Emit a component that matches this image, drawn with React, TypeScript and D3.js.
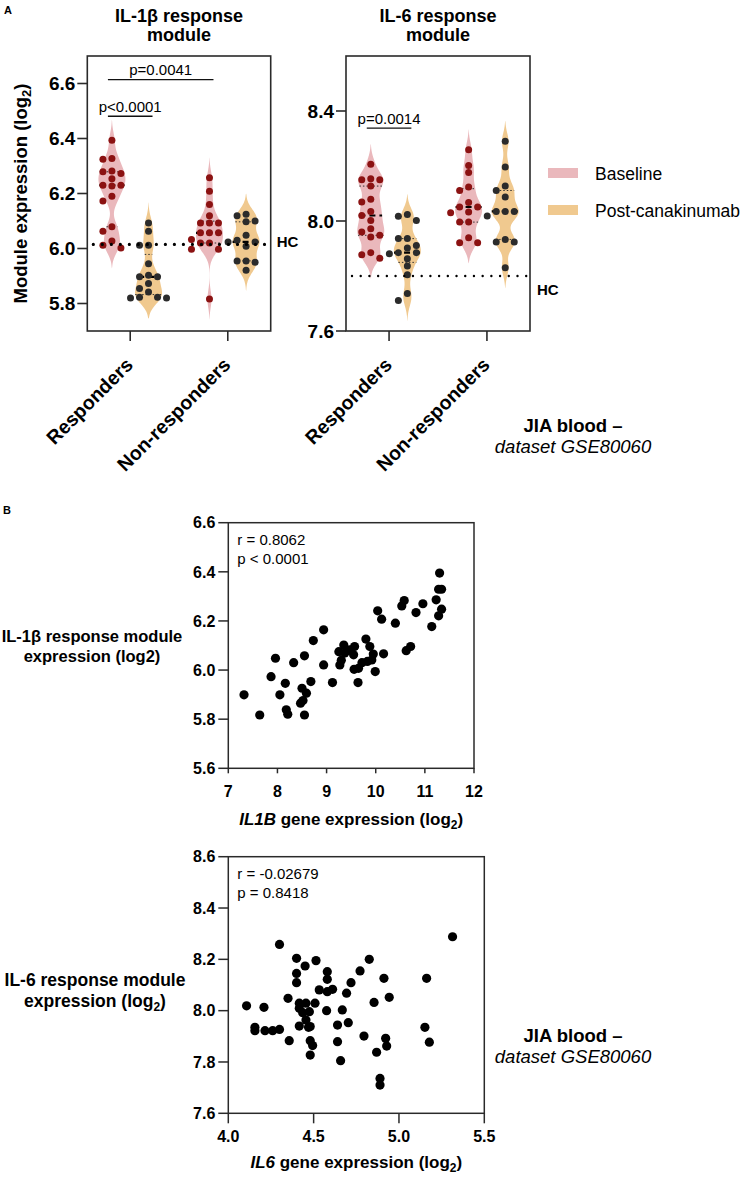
import React from 'react';
import * as d3 from 'd3';

const FONT = "'Liberation Sans', Arial, Helvetica, sans-serif";

// ---------- Panel A data ----------
const groups = ['Responders', 'Non-responders'];
const conditions = ['Baseline', 'Post-canakinumab'];

const il1bRespBaseline = [6.394, 6.327, 6.325, 6.279, 6.282, 6.273, 6.254, 6.230, 6.230, 6.227, 6.190, 6.173, 6.079, 6.063, 6.027, 6.012, 6.002];
const il1bRespPost = [6.093, 6.063, 6.012, 6.012, 5.945, 5.897, 5.897, 5.903, 5.873, 5.855, 5.842, 5.820, 5.820, 5.823, 5.823];
const il1bNonBaseline = [6.257, 6.208, 6.160, 6.119, 6.093, 6.093, 6.093, 6.057, 6.057, 6.057, 6.033, 6.020, 6.020, 5.997, 5.997, 5.816];
const il1bNonPost = [6.125, 6.119, 6.097, 6.100, 6.048, 6.030, 6.024, 6.024, 6.008, 5.955, 5.955, 5.950, 5.921];

const il6RespBaseline = [8.206, 8.150, 8.154, 8.150, 8.127, 8.079, 8.069, 8.035, 8.020, 8.002, 7.972, 7.960, 7.948, 7.942, 7.885, 7.877, 7.865];
const il6RespPost = [8.024, 8.017, 8.002, 7.936, 7.936, 7.911, 7.885, 7.885, 7.902, 7.881, 7.863, 7.836, 7.805, 7.736, 7.711];
const il6NonBaseline = [8.259, 8.202, 8.176, 8.124, 8.111, 8.067, 8.051, 8.051, 8.033, 8.030, 7.996, 7.996, 7.939, 7.921, 7.921];
const il6NonPost = [8.290, 8.196, 8.127, 8.111, 8.087, 8.035, 8.035, 8.035, 8.018, 7.933, 7.924, 7.924, 7.830];

const il1bTicks = [5.8, 6.0, 6.2, 6.4, 6.6];
const il6Ticks = [7.6, 8.0, 8.4];
const il1bDomain = [5.7, 6.7];
const il6Domain = [7.6, 8.6];
const il1bHC = 6.015;
const il6HC = 7.8;

// ---------- Panel B data ----------
const scatterIL1B: [number, number][] = [
  [7.32, 5.899], [7.64, 5.817], [7.87, 5.973], [7.96, 6.048], [8.05, 5.899], [8.16, 5.946], [8.18, 5.838], [8.21, 5.820],
  [8.33, 6.030], [8.47, 5.865], [8.50, 5.926], [8.55, 6.058], [8.55, 5.817], [8.52, 5.876], [8.59, 5.906], [8.68, 5.953],
  [8.73, 6.120], [8.94, 6.164], [8.94, 6.021], [9.12, 5.949], [9.25, 6.075], [9.27, 6.021], [9.35, 6.102], [9.37, 6.069],
  [9.30, 6.040], [9.47, 6.082], [9.55, 6.062], [9.57, 6.096], [9.56, 6.003], [9.64, 5.949], [9.65, 6.007], [9.72, 6.030],
  [9.80, 6.126], [9.83, 6.035], [9.88, 6.096], [9.92, 6.041], [9.99, 5.994], [9.95, 6.065], [10.04, 6.241], [10.12, 6.207],
  [10.16, 6.066], [10.40, 6.191], [10.53, 6.261], [10.58, 6.283], [10.62, 6.079], [10.71, 6.096], [10.82, 6.234], [10.96, 6.270],
  [11.14, 6.177], [11.23, 6.286], [11.28, 6.221], [11.30, 6.395], [11.28, 6.329], [11.34, 6.329], [11.34, 6.248],
];
const scatterIL6: [number, number][] = [
  [4.107, 8.019], [4.156, 7.935], [4.156, 7.922], [4.209, 8.013], [4.215, 7.922], [4.26, 7.922], [4.30, 7.927], [4.30, 8.258],
  [4.35, 8.048], [4.357, 7.883], [4.40, 8.204], [4.40, 8.145], [4.40, 8.109], [4.416, 8.029], [4.416, 8.009], [4.416, 7.94],
  [4.436, 7.992], [4.45, 8.174], [4.455, 8.029], [4.455, 7.964], [4.47, 7.935], [4.475, 7.996], [4.48, 7.883], [4.48, 7.827],
  [4.494, 7.864], [4.48, 7.938], [4.508, 8.029], [4.514, 8.195], [4.533, 8.081], [4.58, 8.152], [4.58, 8.122], [4.58, 8.074],
  [4.576, 8.0], [4.611, 8.083], [4.668, 8.003], [4.64, 7.944], [4.64, 7.879], [4.658, 7.805], [4.693, 8.068], [4.703, 7.953],
  [4.719, 8.109], [4.772, 8.155], [4.795, 7.901], [4.826, 8.2], [4.854, 8.032], [4.869, 7.838], [4.889, 7.736], [4.889, 7.71],
  [4.912, 8.126], [4.922, 7.892], [4.928, 7.862], [4.943, 8.052], [5.152, 7.935], [5.162, 8.126], [5.178, 7.877], [5.314, 8.288],
];
const scatter1XTicks = [7, 8, 9, 10, 11, 12];
const scatter1YTicks = [5.6, 5.8, 6.0, 6.2, 6.4, 6.6];
const scatter2XTicks = [4.0, 4.5, 5.0, 5.5];
const scatter2YTicks = [7.6, 7.8, 8.0, 8.2, 8.4, 8.6];

const PINK = '#eab8bc';
const TAN = '#f0c98f';
const RED_DOT = '#8b1212';
const GRAY_DOT = '#2b2b2b';
const AXIS = '#2a2a2a';

function gauss(u: number) { return Math.exp(-0.5 * u * u); }

function swarmOffsets(values: number[], y: (v: number) => number, r: number, step: number) {
  const order = values.map((v, i) => ({ v, i, py: y(v) })).sort((a, b) => a.py - b.py);
  const placed: { dx: number; py: number }[] = [];
  const out: number[] = new Array(values.length).fill(0);
  for (const p of order) {
    for (const k of [0, -1, 1, -2, 2, -3, 3]) {
      const dx = k * step;
      const hit = placed.some(q => Math.abs(q.dx - dx) < step * 0.9 && Math.abs(q.py - p.py) < 2 * r);
      if (!hit) { placed.push({ dx, py: p.py }); out[p.i] = dx; break; }
    }
  }
  return out;
}

type ViolinProps = { values: number[]; cx: number; y: d3.ScaleLinear<number, number>; fill: string; dot: string };

function Violin({ values, cx, y, fill, dot }: ViolinProps) {
  const bw = 0.03, ext = 0.075, maxHalf = 13.5;
  const lo = d3.min(values)! - ext, hi = d3.max(values)! + ext;
  const grid = d3.range(0, 121).map(i => lo + (hi - lo) * i / 120);
  const dens = grid.map(g => d3.sum(values, v => gauss((g - v) / bw)));
  const m = d3.max(dens)!;
  const pts: [number, number][] = grid.map((g, i) => [g, (dens[i] / m) * maxHalf]);
  pts[0][1] = 0; pts[pts.length - 1][1] = 0;
  const area = d3.area<[number, number]>()
    .y(d => y(d[0])).x0(d => cx - d[1]).x1(d => cx + d[1]).curve(d3.curveBasis);
  const halfAt = (v: number) => (d3.sum(values, u => gauss((v - u) / bw)) / m) * maxHalf;
  const sorted = values.slice().sort(d3.ascending);
  const med = d3.median(values)!;
  const q1 = d3.quantile(sorted, 0.25)!;
  const q3 = d3.quantile(sorted, 0.75)!;
  const offs = swarmOffsets(values, y, 3.5, 9);
  return (
    <g>
      <path d={area(pts) || ''} fill={fill} stroke="none" />
      {[q1, q3].map((q, i) => (
        <line key={i} x1={cx - halfAt(q)} x2={cx + halfAt(q)} y1={y(q)} y2={y(q)} stroke="#333" strokeWidth={1} strokeDasharray="1.5,2" />
      ))}
      <line x1={cx - halfAt(med)} x2={cx + halfAt(med)} y1={y(med)} y2={y(med)} stroke="#000" strokeWidth={2.2} strokeDasharray="6,4" />
      {values.map((v, i) => (
        <circle key={i} cx={cx + offs[i]} cy={y(v)} r={3.5} fill={dot} />
      ))}
    </g>
  );
}

type PBar = { from: [number, number]; to: [number, number]; level: number; label: string };

type ViolinPanelProps = {
  x0: number; x1: number; title: string[]; domain: number[]; ticks: number[];
  data: number[][][]; hc: number; hcLabel: { dx: number; dy: number }; hcStroke: number;
  bars: PBar[]; yLabel?: boolean;
};

function ViolinPanel({ x0, x1, title, domain, ticks, data, hc, hcLabel, hcStroke, bars, yLabel }: ViolinPanelProps) {
  const top = 56, bottom = 331;
  const y = d3.scaleLinear().domain(domain).range([bottom, top]);
  const gx = d3.scalePoint<string>().domain(groups).range([x0, x1]).padding(0.44);
  const cx = d3.scalePoint<string>().domain(conditions).range([-18.3, 18.3]);
  const center = (gi: number, ci: number) => gx(groups[gi])! + cx(conditions[ci])!;
  const mid = (x0 + x1) / 2;
  return (
    <g>
      <text x={mid} y={22} textAnchor="middle" fontSize={18} fontWeight="bold" fontFamily={FONT}>{title[0]}</text>
      <text x={mid} y={41} textAnchor="middle" fontSize={18} fontWeight="bold" fontFamily={FONT}>{title[1]}</text>
      {yLabel && (
        <text transform={`translate(27,${(top + bottom) / 2}) rotate(-90)`} textAnchor="middle" fontSize={18.5} fontWeight="bold" fontFamily={FONT}>
          Module expression (log<tspan dy={4} fontSize={13}>2</tspan><tspan dy={-4}>)</tspan>
        </text>
      )}
      {/* violins */}
      {data.map((g, gi) => g.map((vals, ci) => (
        <Violin key={`${gi}-${ci}`} values={vals} cx={center(gi, ci)} y={y} fill={ci === 0 ? PINK : TAN} dot={ci === 0 ? RED_DOT : GRAY_DOT} />
      )))}
      {/* HC line */}
      <line x1={x0 + 6} x2={x1 + 1} y1={y(hc)} y2={y(hc)} stroke="#000" strokeWidth={hcStroke} strokeLinecap="round" strokeDasharray={`0.01,${hcStroke > 2.6 ? 9 : 8.7}`} />
      <text x={x1 + hcLabel.dx} y={y(hc) + hcLabel.dy} dominantBaseline="middle" fontSize={15} fontWeight="bold" fontFamily={FONT}>HC</text>
      {/* significance bars */}
      {bars.map((b, i) => {
        const xa = center(b.from[0], b.from[1]) - 4;
        const xb = center(b.to[0], b.to[1]) + 4;
        return (
          <g key={i}>
            <line x1={xa} x2={xb} y1={y(b.level)} y2={y(b.level)} stroke="#111" strokeWidth={1.3} />
            <text x={(xa + xb) / 2} y={y(b.level) - 4.5} textAnchor="middle" fontSize={15} fontFamily={FONT}>{b.label}</text>
          </g>
        );
      })}
      {/* frame */}
      <rect x={x0} y={top} width={x1 - x0} height={bottom - top} fill="none" stroke={AXIS} strokeWidth={1.6} />
      {ticks.map(t => (
        <g key={t}>
          <line x1={x0 - 10} x2={x0} y1={y(t)} y2={y(t)} stroke={AXIS} strokeWidth={1.6} />
          <text x={x0 - 12} y={y(t)} dy="0.36em" textAnchor="end" fontSize={19} fontWeight="bold" fontFamily={FONT}>{t.toFixed(1)}</text>
        </g>
      ))}
      {groups.map(g => (
        <g key={g}>
          <line x1={gx(g)} x2={gx(g)} y1={bottom} y2={bottom + 10} stroke={AXIS} strokeWidth={1.6} />
          <text transform={`translate(${gx(g)! + 4},${bottom + 35}) rotate(-45)`} textAnchor="end" fontSize={19.5} fontWeight="bold" fontFamily={FONT}>{g}</text>
        </g>
      ))}
    </g>
  );
}

type ScatterProps = {
  data: [number, number][]; x0: number; x1: number; top: number; bottom: number;
  xDomain: number[]; yDomain: number[]; xTicks: number[]; yTicks: number[];
  xFmt: (v: number) => string; xTickLen: number; xLabelY: number;
  xLabel: React.ReactNode; yLabel: React.ReactNode; stats: string[];
};

function Scatter({ data, x0, x1, top, bottom, xDomain, yDomain, xTicks, yTicks, xFmt, xTickLen, xLabelY, xLabel, yLabel, stats }: ScatterProps) {
  const x = d3.scaleLinear().domain(xDomain).range([x0, x1]);
  const y = d3.scaleLinear().domain(yDomain).range([bottom, top]);
  return (
    <g>
      {data.map((d, i) => <circle key={i} cx={x(d[0])} cy={y(d[1])} r={4.6} fill="#000" />)}
      <rect x={x0} y={top} width={x1 - x0} height={bottom - top} fill="none" stroke={AXIS} strokeWidth={1.5} />
      {yTicks.map(t => (
        <g key={t}>
          <line x1={x0 - 10} x2={x0} y1={y(t)} y2={y(t)} stroke={AXIS} strokeWidth={1.5} />
          <text x={x0 - 13} y={y(t)} dy="0.36em" textAnchor="end" fontSize={16} fontWeight="bold" fontFamily={FONT}>{t.toFixed(1)}</text>
        </g>
      ))}
      {xTicks.map(t => (
        <g key={t}>
          <line x1={x(t)} x2={x(t)} y1={bottom} y2={bottom + xTickLen} stroke={AXIS} strokeWidth={1.5} />
          <text x={x(t)} y={bottom + 29} textAnchor="middle" fontSize={16} fontWeight="bold" fontFamily={FONT}>{xFmt(t)}</text>
        </g>
      ))}
      <text x={(x0 + x1) / 2} y={xLabelY} textAnchor="middle" fontSize={17} fontWeight="bold" fontFamily={FONT}>{xLabel}</text>
      {yLabel}
      <text x={x0 + 9} y={top + 22} fontSize={15} fontFamily={FONT}>{stats[0]}</text>
      <text x={x0 + 9} y={top + 41} fontSize={15} fontFamily={FONT}>{stats[1]}</text>
    </g>
  );
}

export default function App() {
  return (
    <svg width={747} height={1178} style={{ position: 'absolute', left: 0, top: 0, background: '#fff' }} fontFamily={FONT}>
      <rect width={747} height={1178} fill="#fff" />
      <text x={4} y={14} fontSize={11} fontWeight="bold" fontFamily={FONT}>A</text>
      <ViolinPanel
        x0={87.3} x1={270.7}
        title={['IL-1β response', 'module']}
        domain={il1bDomain} ticks={il1bTicks}
        data={[[il1bRespBaseline, il1bRespPost], [il1bNonBaseline, il1bNonPost]]}
        hc={il1bHC} hcLabel={{ dx: 6, dy: -1 }} hcStroke={3.2}
        bars={[
          { from: [0, 0], to: [1, 0], level: 6.614, label: 'p=0.0041' },
          { from: [0, 0], to: [0, 1], level: 6.481, label: 'p<0.0001' },
        ]}
        yLabel
      />
      <ViolinPanel
        x0={346} x1={530}
        title={['IL-6 response', 'module']}
        domain={il6Domain} ticks={il6Ticks}
        data={[[il6RespBaseline, il6RespPost], [il6NonBaseline, il6NonPost]]}
        hc={il6HC} hcLabel={{ dx: 7, dy: 15 }} hcStroke={2.4}
        bars={[{ from: [0, 0], to: [0, 1], level: 8.338, label: 'p=0.0014' }]}
      />
      {/* legend */}
      <rect x={548} y={168} width={30} height={10} fill={PINK} />
      <text x={595} y={174} dy="0.36em" fontSize={17.5} fontFamily={FONT}>{conditions[0]}</text>
      <rect x={548} y={205} width={30} height={10} fill={TAN} />
      <text x={595} y={211} dy="0.36em" fontSize={17.5} fontFamily={FONT}>{conditions[1]}</text>
      <text x={573} y={432} textAnchor="middle" fontSize={18.5} fontWeight="bold" fontFamily={FONT}>JIA blood –</text>
      <text x={573} y={453} textAnchor="middle" fontSize={18.5} fontStyle="italic" fontFamily={FONT}>dataset GSE80060</text>

      <text x={3} y={514} fontSize={11} fontWeight="bold" fontFamily={FONT}>B</text>
      <Scatter
        data={scatterIL1B} x0={228.3} x1={474} top={522.7} bottom={768.3}
        xDomain={[7, 12]} yDomain={[5.6, 6.6]} xTicks={scatter1XTicks} yTicks={scatter1YTicks}
        xFmt={v => String(v)} xTickLen={5} xLabelY={825}
        xLabel={<><tspan fontStyle="italic">IL1B</tspan> gene expression (log<tspan dy={4} fontSize={12}>2</tspan><tspan dy={-4}>)</tspan></>}
        yLabel={<>
          <text x={92} y={642} textAnchor="middle" fontSize={16.5} fontWeight="bold" fontFamily={FONT}>IL-1β response module</text>
          <text x={92} y={662} textAnchor="middle" fontSize={16.5} fontWeight="bold" fontFamily={FONT}>expression (log2)</text>
        </>}
        stats={['r = 0.8062', 'p < 0.0001']}
      />
      <Scatter
        data={scatterIL6} x0={228.3} x1={484.3} top={856.7} bottom={1113.3}
        xDomain={[4, 5.5]} yDomain={[7.6, 8.6]} xTicks={scatter2XTicks} yTicks={scatter2YTicks}
        xFmt={v => v.toFixed(1)} xTickLen={10} xLabelY={1168}
        xLabel={<><tspan fontStyle="italic">IL6</tspan> gene expression (log<tspan dy={4} fontSize={12}>2</tspan><tspan dy={-4}>)</tspan></>}
        yLabel={<>
          <text x={95} y={986} textAnchor="middle" fontSize={17.5} fontWeight="bold" fontFamily={FONT}>IL-6 response module</text>
          <text x={95} y={1007} textAnchor="middle" fontSize={17.5} fontWeight="bold" fontFamily={FONT}>expression (log<tspan dy={4} fontSize={12}>2</tspan><tspan dy={-4}>)</tspan></text>
        </>}
        stats={['r = -0.02679', 'p = 0.8418']}
      />
      <text x={573} y={1042} textAnchor="middle" fontSize={18.5} fontWeight="bold" fontFamily={FONT}>JIA blood –</text>
      <text x={573} y={1063} textAnchor="middle" fontSize={18.5} fontStyle="italic" fontFamily={FONT}>dataset GSE80060</text>
    </svg>
  );
}
